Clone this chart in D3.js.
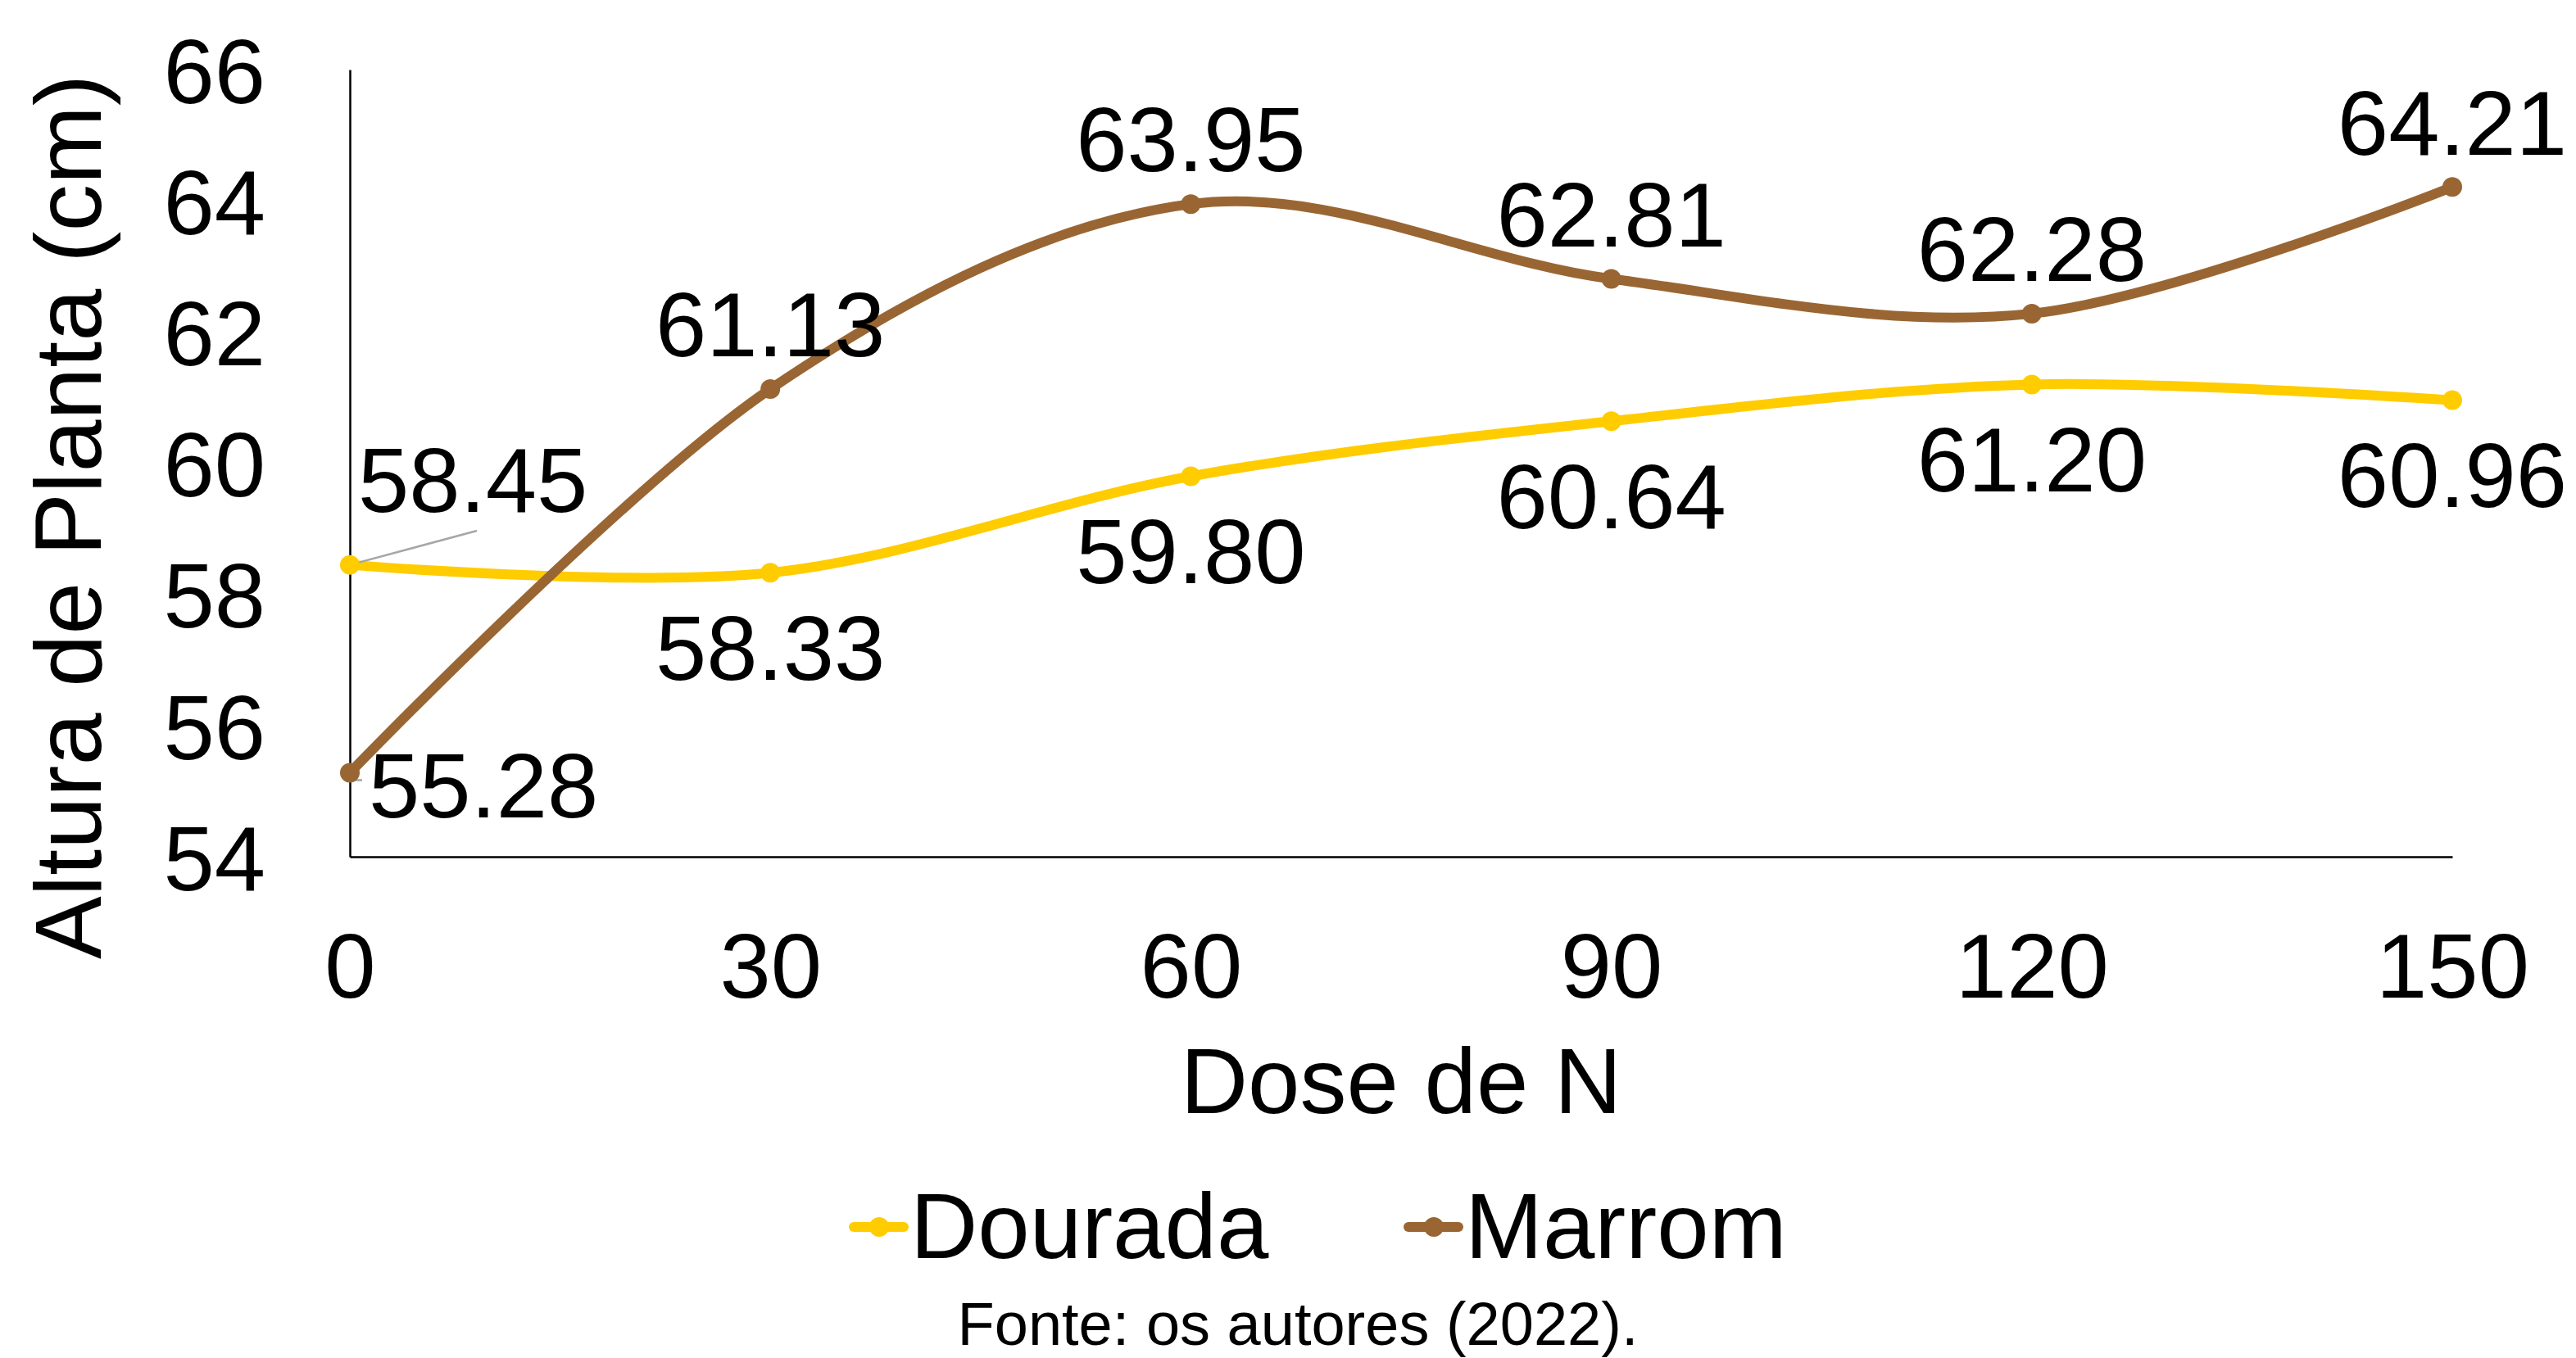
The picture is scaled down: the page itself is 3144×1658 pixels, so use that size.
<!DOCTYPE html>
<html>
<head>
<meta charset="utf-8">
<script src="https://cdn.jsdelivr.net/npm/d3@7"></script>
<style>
  html, body { margin: 0; padding: 0; background: #fff; }
  svg { display: block; font-family: "Liberation Sans", Arial, sans-serif; }
</style>
</head>
<body>
<svg id="chart" width="3144" height="1658"></svg>
<script>
const doses = [0, 30, 60, 90, 120, 150];
const dourada = [58.45, 58.33, 59.80, 60.64, 61.20, 60.96];
const marrom = [55.28, 61.13, 63.95, 62.81, 62.28, 64.21];
const yTicks = [54, 56, 58, 60, 62, 64, 66];
const seriesNames = ["Dourada", "Marrom"];
const seriesColors = ["#FFCC00", "#996633"];

const svg = d3.select("#chart");
svg.append("rect").attr("width", 3144).attr("height", 1658).attr("fill", "#fff");

const x = d3.scaleLinear().domain([0, 150]).range([427, 2993]);
const y = d3.scaleLinear().domain([54, 66]).range([1046, 85]);

const FS = 112;

// Axes
const yAxis = svg.append("g").attr("transform", `translate(${x(0)},0)`)
  .call(d3.axisLeft(y).tickValues(yTicks).tickSize(0).tickPadding(103).tickFormat(d3.format("d")));
yAxis.select(".domain").attr("stroke", "#000").attr("stroke-width", 2.5);
yAxis.selectAll("text").attr("font-size", FS).attr("fill", "#000")
  .attr("font-family", "'Liberation Sans', Arial, sans-serif").attr("dy", "0.36em");

const xAxis = svg.append("g").attr("transform", `translate(0,${y(54)})`)
  .call(d3.axisBottom(x).tickValues(doses).tickSize(0).tickPadding(92).tickFormat(d3.format("d")));
xAxis.select(".domain").attr("stroke", "#000").attr("stroke-width", 2.5);
xAxis.selectAll("text").attr("font-size", FS).attr("fill", "#000")
  .attr("font-family", "'Liberation Sans', Arial, sans-serif");

// Axis titles
svg.append("text")
  .attr("transform", `translate(82,631) rotate(-90)`)
  .attr("text-anchor", "middle").attr("dy", "0.36em")
  .attr("font-size", 115).attr("fill", "#000")
  .text("Altura de Planta (cm)");

svg.append("text")
  .attr("x", (x(0) + x(150)) / 2).attr("y", 1318)
  .attr("text-anchor", "middle").attr("dy", "0.36em")
  .attr("font-size", 114).attr("fill", "#000")
  .text("Dose de N");

// Lines
const line = d3.line()
  .x((d, i) => x(doses[i]))
  .y(d => y(d))
  .curve(d3.curveCardinal.tension(0));

const allSeries = [dourada, marrom];
allSeries.forEach((s, k) => {
  svg.append("path").datum(s)
    .attr("d", line)
    .attr("fill", "none")
    .attr("stroke", seriesColors[k])
    .attr("stroke-width", 12)
    .attr("stroke-linecap", "round");
});

// Leader lines
svg.append("line")
  .attr("x1", x(0)).attr("y1", y(dourada[0]))
  .attr("x2", 582).attr("y2", 648)
  .attr("stroke", "#A6A6A6").attr("stroke-width", 2.5);
svg.append("path")
  .attr("d", `M${x(0) + 1},${y(marrom[0])} L${x(0) + 3},${y(marrom[0]) + 9} L${x(0) + 15},${y(marrom[0]) + 9}`)
  .attr("fill", "none").attr("stroke", "#A6A6A6").attr("stroke-width", 2.5);

// Markers
allSeries.forEach((s, k) => {
  svg.append("g").selectAll("circle").data(s).join("circle")
    .attr("cx", (d, i) => x(doses[i]))
    .attr("cy", d => y(d))
    .attr("r", 12)
    .attr("fill", seriesColors[k]);
});

// Data labels
const fmt = d3.format(".2f");
const labels = svg.append("g").attr("font-size", FS).attr("fill", "#000");
dourada.forEach((v, i) => {
  if (i === 0) {
    labels.append("text").attr("x", 437).attr("y", 585).attr("dy", "0.36em").text(fmt(v));
  } else {
    labels.append("text").attr("x", x(doses[i])).attr("y", y(v) + 90)
      .attr("text-anchor", "middle").attr("dy", "0.36em").text(fmt(v));
  }
});
marrom.forEach((v, i) => {
  if (i === 0) {
    labels.append("text").attr("x", x(0) + 23).attr("y", y(v) + 14).attr("dy", "0.36em").text(fmt(v));
  } else {
    labels.append("text").attr("x", x(doses[i])).attr("y", y(v) - 80)
      .attr("text-anchor", "middle").attr("dy", "0.36em").text(fmt(v));
  }
});

// Legend
const legendY = 1498;
const legendItems = [{x0: 1042, tx: 1111}, {x0: 1719, tx: 1788}];
seriesNames.forEach((name, k) => {
  const g = svg.append("g");
  const it = legendItems[k];
  g.append("line").attr("x1", it.x0).attr("x2", it.x0 + 61)
    .attr("y1", legendY).attr("y2", legendY)
    .attr("stroke", seriesColors[k]).attr("stroke-width", 12).attr("stroke-linecap", "round");
  g.append("circle").attr("cx", it.x0 + 31).attr("cy", legendY).attr("r", 12).attr("fill", seriesColors[k]);
  g.append("text").attr("x", it.tx).attr("y", 1536)
    .attr("font-size", 114).attr("fill", "#000").text(name);
});

// Source
svg.append("text")
  .attr("x", 1584).attr("y", 1642)
  .attr("text-anchor", "middle")
  .attr("font-size", 74).attr("fill", "#000")
  .text("Fonte: os autores (2022).");
</script>
</body>
</html>
